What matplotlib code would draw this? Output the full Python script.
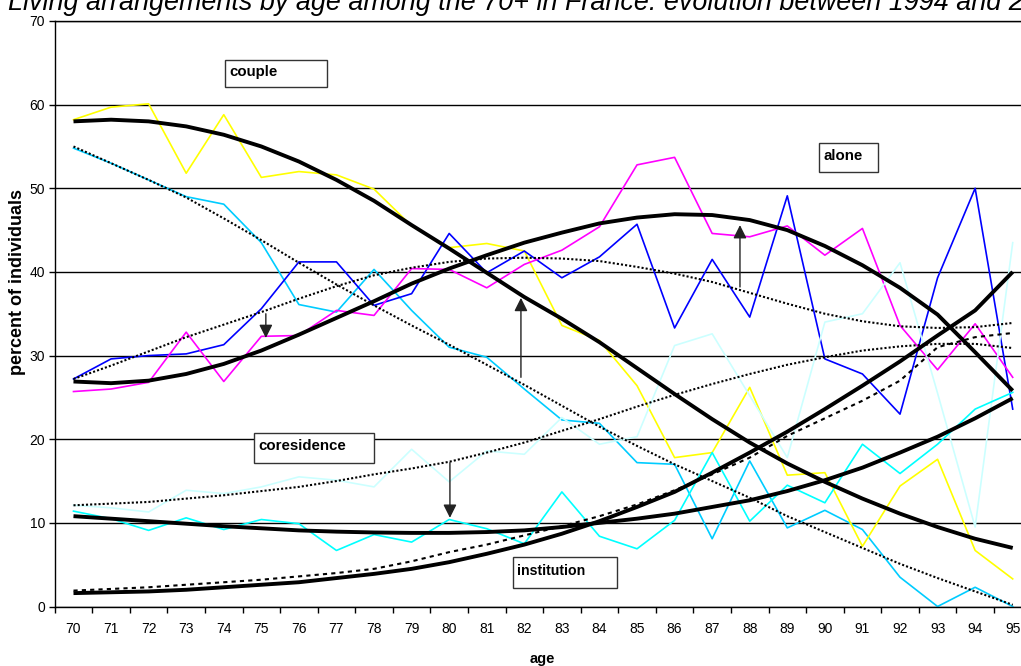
import matplotlib
matplotlib.use("Agg")
import matplotlib.pyplot as plt
from matplotlib.patches import Rectangle

plt.rcParams['font.family'] = ['Liberation Sans', 'DejaVu Sans']

W, H = 1021, 666

ages = list(range(70, 96))

couple_late = [58.2, 59.7, 60.1, 51.8, 58.8, 51.3, 52.0, 51.6, 49.9, 45.5, 42.9, 43.4, 42.5,
               33.6, 31.8, 26.4, 17.8, 18.4, 26.2, 15.7, 16.0, 7.2, 14.4, 17.6, 6.7, 3.3]
couple_early = [54.8, 53.0, 51.0, 49.0, 48.1, 43.5, 36.1, 35.2, 40.3, 35.4, 31.0, 29.8, 26.0,
                22.3, 21.9, 17.2, 17.0, 8.1, 17.4, 9.4, 11.5, 9.2, 3.5, 0.0, 2.3, 0.0]
alone_late = [25.7, 26.0, 26.8, 32.8, 26.9, 32.3, 32.4, 35.4, 34.8, 40.4, 40.3, 38.1, 40.9,
              42.6, 45.4, 52.8, 53.7, 44.6, 44.2, 45.5, 42.0, 45.2, 33.6, 28.3, 33.8, 27.4]
alone_early = [27.2, 29.6, 30.0, 30.2, 31.3, 35.6, 41.2, 41.2, 36.0, 37.4, 44.6, 39.9, 42.5,
               39.3, 41.8, 45.7, 33.3, 41.5, 34.6, 49.1, 29.6, 27.8, 23.0, 39.3, 50.0, 23.6]
coresid_early = [12.1, 11.8, 11.3, 13.9, 13.5, 14.3, 15.5, 15.1, 14.3, 18.8, 14.9, 18.6, 18.2,
                 22.6, 19.4, 20.3, 31.2, 32.6, 25.2, 17.8, 34.0, 35.0, 41.1, 25.5, 9.5, 43.5]
coresid_late = [11.4, 10.5, 9.1, 10.6, 9.2, 10.4, 9.9, 6.7, 8.6, 7.7, 10.4, 9.3, 7.5,
                13.7, 8.4, 6.9, 10.3, 18.4, 10.2, 14.5, 12.4, 19.4, 15.9, 19.4, 23.6, 25.6]

# fitted curves
couple_fit_late = [58.0, 58.2, 58.0, 57.4, 56.4, 55.0, 53.2, 51.0, 48.5, 45.6, 42.8, 39.9, 37.0,
                   34.4, 31.6, 28.5, 25.4, 22.4, 19.6, 17.1, 14.9, 12.9, 11.1, 9.5, 8.1, 7.0]
couple_fit_early = [55.0, 53.0, 51.0, 48.9, 46.4, 43.8, 41.1, 38.5, 36.0, 33.6, 31.3, 28.9, 26.5,
                    24.0, 21.5, 19.2, 17.0, 15.0, 13.0, 10.8, 8.9, 7.0, 5.1, 3.4, 1.8, 0.2]
alone_fit_late = [26.9, 26.7, 27.0, 27.8, 29.0, 30.6, 32.5, 34.5, 36.5, 38.6, 40.4, 42.0, 43.5,
                  44.7, 45.8, 46.5, 46.9, 46.8, 46.2, 45.0, 43.1, 40.8, 38.1, 34.9, 30.4, 25.8]
alone_fit_early = [27.2, 28.8, 30.5, 32.2, 33.7, 35.2, 36.8, 38.3, 39.6, 40.5, 41.2, 41.6, 41.7,
                   41.6, 41.3, 40.6, 39.8, 38.8, 37.5, 36.2, 35.0, 34.1, 33.5, 33.3, 33.4, 33.9]
coresid_fit_early = [12.1, 12.3, 12.5, 12.9, 13.3, 13.8, 14.3, 15.0, 15.8, 16.5, 17.3, 18.4, 19.6,
                     21.0, 22.4, 23.9, 25.3, 26.6, 27.8, 28.9, 29.8, 30.6, 31.1, 31.4, 31.4, 30.9]
coresid_fit_late = [10.8, 10.5, 10.2, 9.9, 9.6, 9.35, 9.1, 8.95, 8.85, 8.8, 8.8, 8.9, 9.1,
                    9.5, 10.0, 10.5, 11.1, 11.9, 12.7, 13.8, 15.1, 16.6, 18.4, 20.3, 22.5, 24.9]
inst_fit_late = [1.6, 1.7, 1.8, 2.0, 2.3, 2.6, 2.9, 3.4, 3.9, 4.5, 5.3, 6.3, 7.4,
                 8.7, 10.2, 11.9, 13.7, 16.0, 18.4, 20.9, 23.6, 26.4, 29.3, 32.4, 35.4, 40.0]
inst_fit_early = [1.9, 2.1, 2.3, 2.6, 2.9, 3.2, 3.6, 4.0, 4.5, 5.4, 6.5, 7.4, 8.5,
                  9.6, 10.8, 12.2, 13.9, 15.8, 17.8, 20.4, 22.5, 24.6, 27.0, 31.0, 32.2, 32.7]

# arrows: (x position in categories, from, to)
arrows = [(5.12, 35.0, 32.1), (11.91, 27.4, 36.9), (17.74, 38.2, 45.6), (10.02, 17.2, 10.6)]

# text boxes in pixels: label, left, top, right, bottom, font size
boxes = [("couple", 225, 60, 327, 87, 10.8),
         ("alone", 819, 143, 878, 172, 10.8),
         ("coresidence", 254, 433, 374, 463, 10.8),
         ("institution", 513, 557, 617, 588, 10.2)]


def fx(px):
    return px / W


def fy(py):
    return (H - py) / H


fig = plt.figure(figsize=(W / 100, H / 100), dpi=100)
ax = fig.add_axes([fx(54.7), fy(606.5), 976.8 / W, 585.5 / H])

x = list(range(len(ages)))

ax.plot(x, couple_early, color='#00CCFF', lw=1.2, zorder=2)
ax.plot(x, couple_late, color='#FFFF00', lw=1.2, zorder=2)
ax.plot(x, alone_early, color='#0000FF', lw=1.2, zorder=2)
ax.plot(x, alone_late, color='#FF00FF', lw=1.2, zorder=2)
ax.plot(x, coresid_early, color='#CCFFFF', lw=1.2, zorder=2)
ax.plot(x, coresid_late, color='#00FFFF', lw=1.2, zorder=2)

for fit in [couple_fit_early, alone_fit_early, coresid_fit_early]:
    ax.plot(x, fit, color='black', lw=1.5, ls=(0, (1, 1)), zorder=3)
ax.plot(x, inst_fit_early, color='black', lw=1.5, ls=(0, (2, 2)), zorder=3)
for fit in [couple_fit_late, alone_fit_late, coresid_fit_late, inst_fit_late]:
    ax.plot(x, fit, color='black', lw=2.8, solid_capstyle='butt', zorder=3)

for xa, y0, y1 in arrows:
    ax.annotate('', xy=(xa, y1), xytext=(xa, y0),
                arrowprops=dict(arrowstyle='-|>', color='#222222', lw=1,
                                mutation_scale=20, shrinkA=0, shrinkB=0),
                zorder=4)

ax.set_xlim(-0.5, 25.5)
ax.set_ylim(0, 70)
ax.set_yticks(range(0, 71, 10))
ax.set_xticks(x)
ax.set_xticklabels([str(a) for a in ages])
ax.set_xticks([i - 0.5 for i in range(27)], minor=True)
ax.tick_params(axis='x', which='major', length=0, pad=11, labelsize=10)
ax.tick_params(axis='x', which='minor', length=4, width=1, direction='out')
ax.tick_params(axis='y', length=4, width=1, direction='out', pad=3, labelsize=10)
ax.yaxis.grid(True, color='black', lw=1)
ax.set_axisbelow(True)
for s in ax.spines.values():
    s.set_color('black')
    s.set_linewidth(1)

for label, l, t, r, b, fs in boxes:
    fig.patches.append(Rectangle((fx(l), fy(b)), fx(r) - fx(l), fy(t) - fy(b),
                                 transform=fig.transFigure, facecolor='white',
                                 edgecolor='#333333', lw=1, zorder=5))
    fig.text(fx(l + 4), fy((t + b) / 2 - 1.5), label, fontsize=fs, fontweight='bold',
             ha='left', va='center', zorder=6)

fig.text(fx(18), fy(282), 'percent of individuals', rotation=90, fontsize=13,
         fontweight='bold', ha='center', va='center')
fig.text(fx(542), fy(663), 'age', fontsize=10.5, fontweight='bold', ha='center',
         va='baseline')
fig.text(fx(8), fy(9.5), 'Living arrangements by age among the 70+ in France: '
         'evolution between 1994 and 2004', fontsize=19.4, style='italic',
         ha='left', va='baseline')

fig.savefig('out.png', dpi=100)
